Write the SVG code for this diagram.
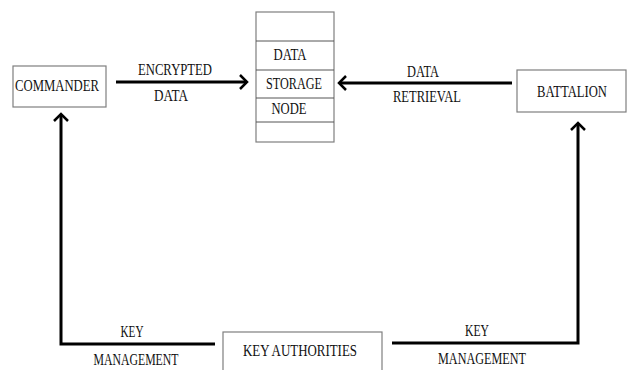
<svg xmlns="http://www.w3.org/2000/svg" width="627" height="370" viewBox="0 0 627 370">
<style>
.box{fill:#fff;stroke:#7f7f7f;stroke-width:1.2}
.cell{fill:none;stroke:#555;stroke-width:1}
.t{font-family:"Liberation Serif","Times New Roman",serif;font-size:17px;fill:#111;text-anchor:middle}
.conn{fill:none;stroke:#000;stroke-width:3}
</style>
<defs>
<marker id="ah" markerUnits="userSpaceOnUse" viewBox="-12 -10 14 20" refX="0" refY="0" markerWidth="14" markerHeight="20" orient="auto">
<path d="M-7,-7 L0,0 L-7,7" fill="none" stroke="#000" stroke-width="2.5"/>
</marker>
</defs>
<rect width="627" height="370" fill="#fff"/>
<g id="commander">
<rect class="box" x="13" y="66" width="93" height="41"/>
<text class="t" x="57" y="91" textLength="84" lengthAdjust="spacingAndGlyphs">COMMANDER</text>
</g>
<g id="storage">
<rect class="box" x="256" y="12" width="78" height="130"/>
<line class="cell" x1="256" y1="41" x2="334" y2="41"/>
<line class="cell" x1="256" y1="70" x2="334" y2="70"/>
<line class="cell" x1="256" y1="98" x2="334" y2="98"/>
<line class="cell" x1="256" y1="122" x2="334" y2="122"/>
<text class="t" x="290" y="60" textLength="33" lengthAdjust="spacingAndGlyphs">DATA</text>
<text class="t" x="294" y="89" textLength="56" lengthAdjust="spacingAndGlyphs">STORAGE</text>
<text class="t" x="289" y="114" textLength="35" lengthAdjust="spacingAndGlyphs">NODE</text>
</g>
<g id="battalion">
<rect class="box" x="517" y="70" width="109" height="42"/>
<text class="t" x="572" y="97" textLength="70" lengthAdjust="spacingAndGlyphs">BATTALION</text>
</g>
<g id="keyauth">
<rect class="box" x="223" y="332" width="159" height="50"/>
<text class="t" x="300" y="356" textLength="114" lengthAdjust="spacingAndGlyphs">KEY AUTHORITIES</text>
</g>
<g id="connectors">
<line class="conn" x1="116" y1="82" x2="247" y2="82" marker-end="url(#ah)"/>
<line class="conn" x1="512" y1="83" x2="339" y2="83" marker-end="url(#ah)"/>
<polyline class="conn" points="215,344 61,344 61,114" marker-end="url(#ah)"/>
<polyline class="conn" points="392,343 578,343 578,123" marker-end="url(#ah)"/>
<text class="t" x="175" y="75" textLength="74" lengthAdjust="spacingAndGlyphs">ENCRYPTED</text>
<text class="t" x="171" y="101" textLength="34" lengthAdjust="spacingAndGlyphs">DATA</text>
<text class="t" x="423" y="77" textLength="32" lengthAdjust="spacingAndGlyphs">DATA</text>
<text class="t" x="427" y="102" textLength="68" lengthAdjust="spacingAndGlyphs">RETRIEVAL</text>
<text class="t" x="132" y="337" textLength="23" lengthAdjust="spacingAndGlyphs">KEY</text>
<text class="t" x="136" y="365" textLength="85" lengthAdjust="spacingAndGlyphs">MANAGEMENT</text>
<text class="t" x="477" y="336" textLength="24" lengthAdjust="spacingAndGlyphs">KEY</text>
<text class="t" x="482" y="364" textLength="88" lengthAdjust="spacingAndGlyphs">MANAGEMENT</text>
</g>
</svg>
